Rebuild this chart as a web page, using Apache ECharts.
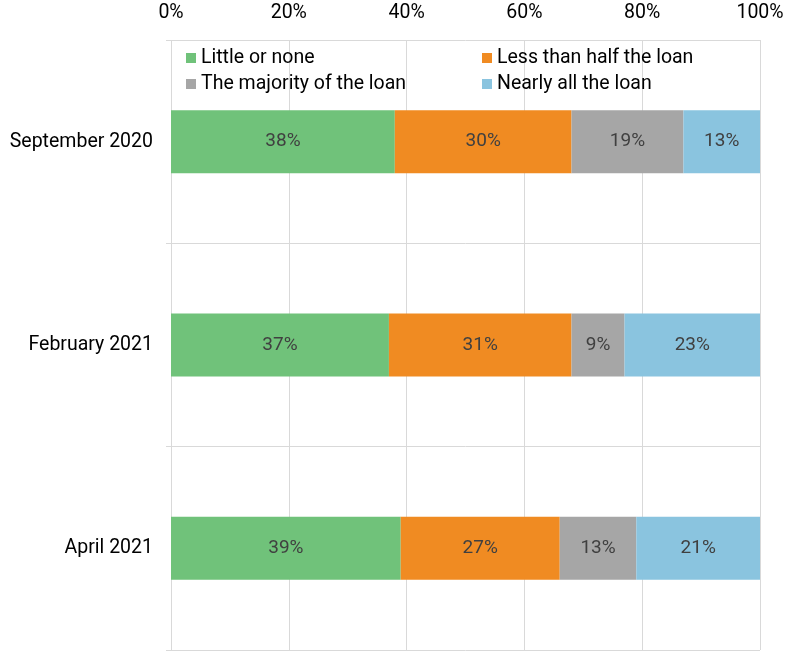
<!DOCTYPE html>
<html><head><meta charset="utf-8">
<script src="https://cdn.jsdelivr.net/npm/echarts@6/dist/echarts.min.js"></script>
<style>html,body{margin:0;padding:0;background:#fff}#c{width:790px;height:657px}</style>
</head><body><div id="c"></div>
<script>
const categories = ['September 2020', 'February 2021', 'April 2021'];
const seriesNames = ['Little or none', 'Less than half the loan', 'The majority of the loan', 'Nearly all the loan'];
const littleOrNone = [38, 37, 39];
const lessThanHalf = [30, 31, 27];
const majority = [19, 9, 13];
const nearlyAll = [13, 23, 21];
const xTicks = ['0%', '20%', '40%', '60%', '80%', '100%'];
const colors = ['#70C27A', '#F08B22', '#A6A6A6', '#8AC4DF'];
const values = [littleOrNone, lessThanHalf, majority, nearlyAll];
const FONT = 'Roboto';
const legendText = { fontFamily: FONT, fontSize: 19.5, color: '#000', padding: [0, 0, 0, 0] };
const chart = echarts.init(document.getElementById('c'));
chart.setOption({
  animation: false,
  grid: { left: 171, right: 30, top: 40, bottom: 7 },
  legend: [
    { data: [seriesNames[0], seriesNames[2]], orient: 'vertical', left: 181, top: 43, itemWidth: 10, itemHeight: 10, itemGap: 6, icon: 'rect', textStyle: legendText },
    { data: [seriesNames[1], seriesNames[3]], orient: 'vertical', left: 477, top: 43, itemWidth: 10, itemHeight: 10, itemGap: 6, icon: 'rect', textStyle: legendText }
  ],
  xAxis: {
    type: 'value', position: 'top', min: 0, max: 100, interval: 20,
    axisLine: { show: false }, axisTick: { show: false },
    axisLabel: { formatter: v => xTicks[v / 20], fontFamily: FONT, fontSize: 19.5, color: '#000', margin: 17 },
    splitLine: { show: true, lineStyle: { color: '#D9D9D9', width: 1 } }
  },
  yAxis: {
    type: 'category', data: categories, inverse: true,
    axisLine: { show: false },
    axisTick: { show: true, length: 5, lineStyle: { color: '#D9D9D9' } },
    axisLabel: { fontFamily: FONT, fontSize: 19.5, color: '#000', margin: 18 },
    splitLine: { show: true, lineStyle: { color: '#D9D9D9', width: 1 } }
  },
  series: values.map((d, i) => ({
    name: seriesNames[i], type: 'bar', stack: 'total', data: d, barWidth: 63,
    itemStyle: { color: colors[i] },
    label: { show: true, position: 'inside', formatter: p => p.value + '%', fontFamily: FONT, fontSize: 19, color: '#404040' }
  }))
});
</script></body></html>
